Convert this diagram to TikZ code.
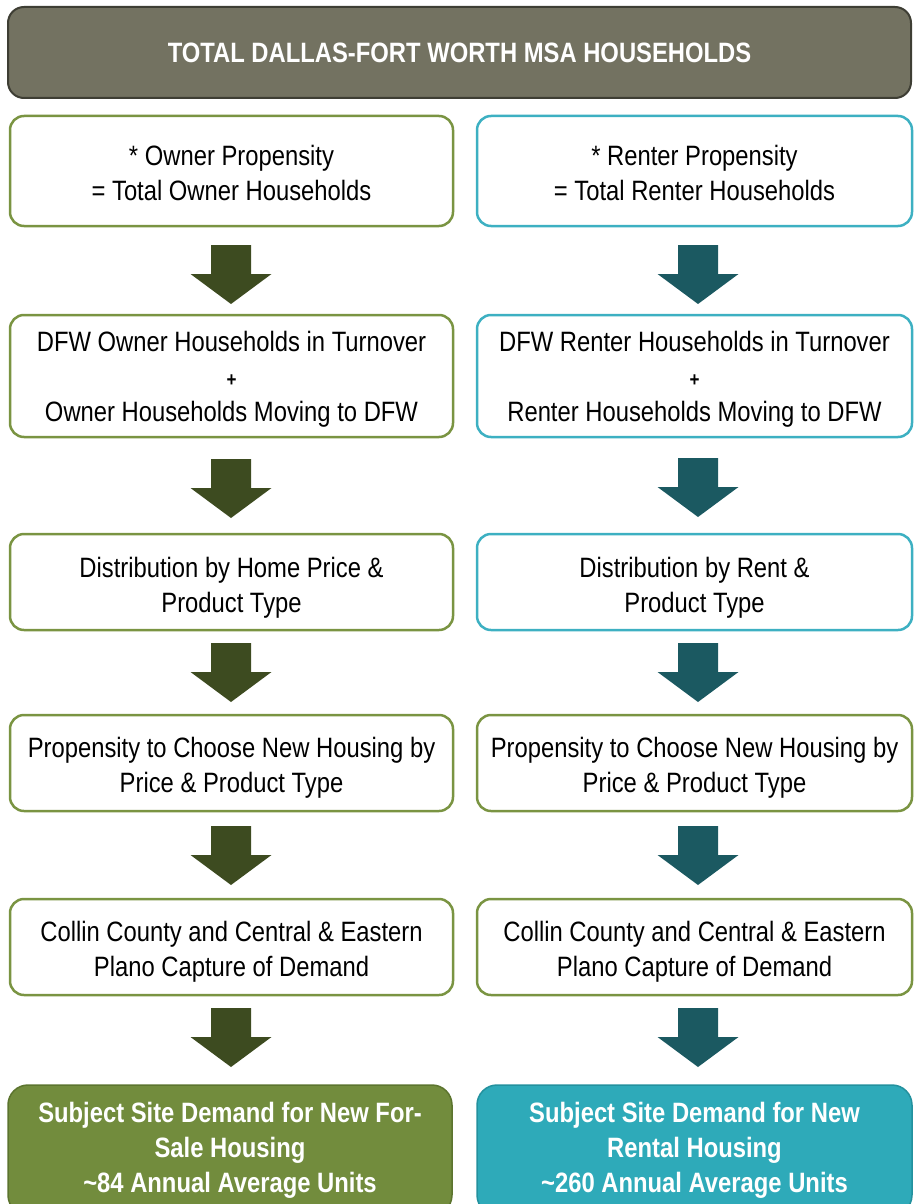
\documentclass[tikz,border=0pt]{standalone}
\usepackage{fontspec}
\setmainfont[FakeStretch=0.85]{Liberation Sans}
\definecolor{topfill}{HTML}{737261}
\definecolor{topbd}{HTML}{3E3E34}
\definecolor{olivebd}{HTML}{7A9442}
\definecolor{tealbd}{HTML}{3DB0C2}
\definecolor{arrowL}{HTML}{3D4B20}
\definecolor{arrowR}{HTML}{1B5961}
\definecolor{botL}{HTML}{728C3D}
\definecolor{botLbd}{HTML}{5C742E}
\definecolor{botR}{HTML}{2EAAB9}
\definecolor{botRbd}{HTML}{23919E}
\newcommand{\plusline}{{\fontsize{20}{35}\selectfont\bfseries +}}
\newcommand{\dnarrow}[2]{\fill[#1] (#2) ++(-20,0) -- ++(40,0) -- ++(0,29) -- ++(20.5,0) -- ++(-40.5,30) -- ++(-40.5,-30) -- ++(20.5,0) -- cycle;}
\begin{document}
\begin{tikzpicture}[x=1pt,y=-1pt,
  basebox/.style={rectangle, inner sep=0pt, align=center,
    font=\fontsize{28}{35}\selectfont},
  wbox/.style={rectangle, inner sep=0pt, draw, line width=2.5pt, fill=white, rounded corners=14pt},
  obox/.style={wbox, draw=olivebd},
  tbox/.style={wbox, draw=tealbd},
  txt/.style={basebox, text=black},
  lcol/.style={minimum width=443pt},
  rcol/.style={minimum width=435pt},
  topbox/.style={basebox, draw=topbd, line width=2pt, fill=topfill, rounded corners=16pt,
    text=white, font=\fontsize{28}{35}\selectfont\bfseries},
  botbox/.style={basebox, line width=1.5pt, rounded corners=20pt, text=white,
    font=\fontsize{28}{35}\selectfont\bfseries},
]
\useasboundingbox (0,0) rectangle (913,1204);

% top
\node[topbox, minimum width=903pt, minimum height=91pt] (top) at (459.5,52.5)
  {TOTAL DALLAS-FORT WORTH MSA HOUSEHOLDS};

% left column boxes
\node[obox, lcol, minimum height=110pt] (L1) at (231.5,171) {};
\node[obox, lcol, minimum height=122pt] (L2) at (231.5,376) {};
\node[obox, lcol, minimum height=96pt] (L3) at (231.5,582) {};
\node[obox, lcol, minimum height=96pt] (L4) at (231.5,763) {};
\node[obox, lcol, minimum height=96pt] (L5) at (231.5,947) {};
\node[botbox, draw=botLbd, fill=botL, minimum width=444pt, minimum height=130pt] (L6) at (230,1150)
  {Subject Site Demand for New For-\\Sale Housing\\\textasciitilde84 Annual Average Units};

% right column boxes
\node[tbox, rcol, minimum height=110pt] (R1) at (694.5,171) {};
\node[tbox, rcol, minimum height=122pt] (R2) at (694.5,376) {};
\node[tbox, rcol, minimum height=96pt] (R3) at (694.5,582) {};
\node[obox, rcol, minimum height=96pt] (R4) at (694.5,763) {};
\node[obox, rcol, minimum height=96pt] (R5) at (694.5,947) {};
\node[botbox, draw=botRbd, fill=botR, minimum width=435pt, minimum height=130pt] (R6) at (694.5,1150)
  {Subject Site Demand for New\\Rental Housing\\\textasciitilde260 Annual Average Units};

% texts
\node[txt] (L1t) at ([yshift=-2pt]L1.center) {* Owner Propensity\\= Total Owner Households};
\node[txt] (L2t) at ([yshift=-3pt]L2.center) {DFW Owner Households in Turnover\\\plusline\\Owner Households Moving to DFW};
\node[txt] (L3t) at ([yshift=-5.5pt]L3.center) {Distribution by Home Price \&\\Product Type};
\node[txt] (L4t) at ([yshift=-4.5pt]L4.center) {Propensity to Choose New Housing by\\Price \& Product Type};
\node[txt] (L5t) at ([yshift=-5pt]L5.center) {Collin County and Central \& Eastern\\Plano Capture of Demand};
\node[txt] (R1t) at ([yshift=-2pt]R1.center) {* Renter Propensity\\= Total Renter Households};
\node[txt] (R2t) at ([yshift=-3pt]R2.center) {DFW Renter Households in Turnover\\\plusline\\Renter Households Moving to DFW};
\node[txt] (R3t) at ([yshift=-5.5pt]R3.center) {Distribution by Rent \&\\Product Type};
\node[txt] (R4t) at ([yshift=-4.5pt]R4.center) {Propensity to Choose New Housing by\\Price \& Product Type};
\node[txt] (R5t) at ([yshift=-5pt]R5.center) {Collin County and Central \& Eastern\\Plano Capture of Demand};

% arrows
\coordinate (aL1) at (231,245);  \coordinate (aR1) at (698,245);
\coordinate (aL2) at (231,459);  \coordinate (aR2) at (698,458);
\coordinate (aL3) at (231,643);  \coordinate (aR3) at (698,643);
\coordinate (aL4) at (231,826);  \coordinate (aR4) at (698,826);
\coordinate (aL5) at (231,1008); \coordinate (aR5) at (698,1008);
\foreach \i in {1,...,5}{\dnarrow{arrowL}{aL\i}\dnarrow{arrowR}{aR\i}}
\end{tikzpicture}
\end{document}
